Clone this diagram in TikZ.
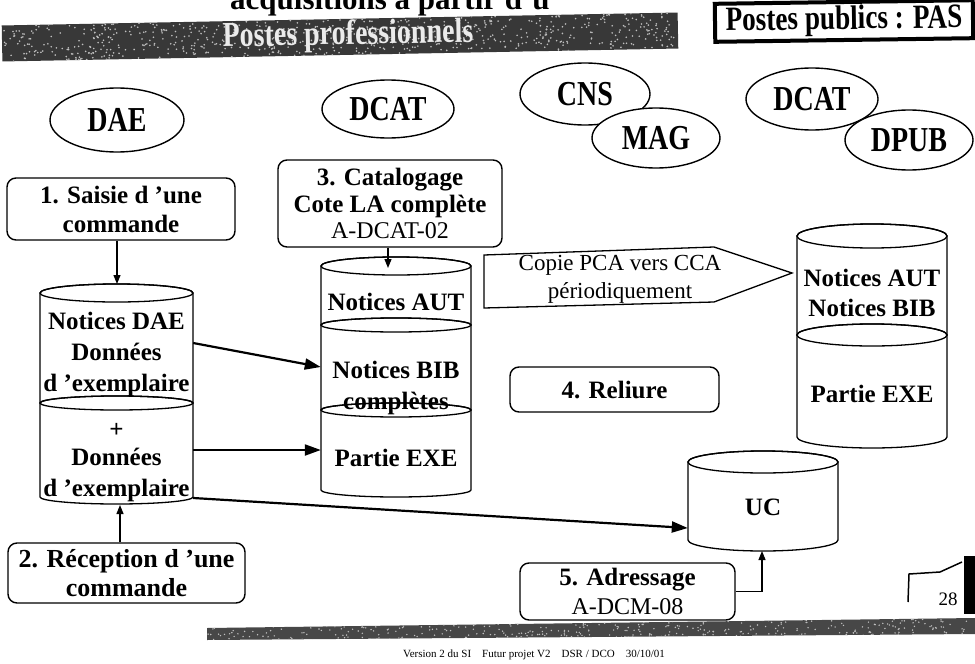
\documentclass[tikz,border=0pt]{standalone}
\usepackage{fontspec}
\setmainfont{Liberation Serif}
\newfontfamily\condfont{Liberation Serif}[FakeStretch=0.8]
\usetikzlibrary{arrows.meta,shapes.geometric}

\newcommand{\cylpart}[5]{%
  \filldraw[fill=white, draw=black, line width=1.3pt] ({#1-#4},#2) -- ({#1-#4},#3)
    arc[start angle=180, end angle=0, x radius=#4, y radius=#5] -- ({#1+#4},#2)
    arc[start angle=0, end angle=-180, x radius=#4, y radius=#5] -- cycle;
  \draw[line width=1.3pt] (#1,#2) ellipse [x radius=#4, y radius=#5];
}

\begin{document}
\begin{tikzpicture}[x=1pt,y=-1pt,
  ell/.style={draw, ellipse, line width=1.4pt, fill=white, inner sep=0pt, font=\condfont\fontsize{35}{38}\selectfont\bfseries},
  stepbox/.style={draw, rounded corners=9pt, line width=1.4pt, fill=white, align=center, inner sep=0pt, font=\fontsize{25}{29}\selectfont\bfseries},
  cyltxt/.style={align=center, inner sep=0pt, font=\fontsize{25}{31}\selectfont\bfseries},
  bigarr/.style={line width=2.2pt, -{Triangle[length=16pt,width=11pt]}},
  smallarr/.style={line width=1.2pt, -{Triangle[length=9pt,width=7pt]}},
  speck/.style={fill=white!75!black}
]
\useasboundingbox (0,0) rectangle (975,664);

% title (cut at top, as in the scan)
\node[anchor=base west, inner sep=0pt, font=\fontsize{31}{36}\selectfont\bfseries] (title) at (230,9) {acquisitions à partir d'u};

% band "Postes professionnels"
\begin{scope}[shift={(340,37)}, rotate=1.1]
  \fill[black!78] (-338,-18) rectangle (338,18);
  \begin{scope}
    \clip (-338,-18) rectangle (338,18);
    \pgfmathsetseed{11}
    \foreach \i in {1,...,700}{
      \pgfmathsetmacro\px{rand*338}
      \pgfmathsetmacro\py{rand*18}
      \fill[speck] (\px,\py) circle (0.9);
    }
  \end{scope}
  \node[transform shape, text=white!92!black, inner sep=0pt, font=\condfont\fontsize{35}{38}\selectfont\bfseries] (prof) at (8,-1) {Postes professionnels};
\end{scope}

% box "Postes publics : PAS"
\node[draw, line width=4pt, fill=white, rotate=0.8, minimum width=258pt, minimum height=38pt, inner sep=0pt, font=\condfont\fontsize{34}{37}\selectfont\bfseries] (pas) at (844,21) {Postes publics : PAS};

% ellipses
\node[ell, minimum width=134pt, minimum height=64pt] (dae) at (117,120) {DAE};
\node[ell, minimum width=132pt, minimum height=58pt] (dcat) at (388,109) {DCAT};
\node[ell, minimum width=130pt, minimum height=62pt] (cns) at (585,94) {CNS};
\node[ell, minimum width=128pt, minimum height=60pt] (mag) at (656,138) {MAG};
\node[ell, minimum width=132pt, minimum height=62pt] (dcatp) at (812,99) {DCAT};
\node[ell, minimum width=128pt, minimum height=60pt] (dpub) at (909,140) {DPUB};

% process boxes
\node[stepbox, minimum width=228pt, minimum height=62pt] (saisie) at (121,209) {1. Saisie d 'une\\commande};
\node[stepbox, minimum width=224pt, minimum height=87pt] (catal) at (390,203.5)
  {3. Catalogage\\[-2pt]Cote LA complète\\[-3pt]\fontsize{24}{27}\selectfont\mdseries A-DCAT-02};
\node[stepbox, minimum width=209pt, minimum height=45pt] (reliure) at (614.5,389.5) {4. Reliure};
\node[stepbox, minimum width=237pt, minimum height=60pt, font=\fontsize{26}{29}\selectfont\bfseries] (recep) at (126.5,573) {2. Réception d 'une\\commande};
\node[stepbox, minimum width=215pt, minimum height=57pt] (adress) at (627.5,591.5)
  {5. Adressage\\\fontsize{24}{27}\selectfont\mdseries A-DCM-08};

% copy arrow shape
\draw[line width=1.3pt, fill=white] (484,255) -- (714,247) -- (792,273) -- (714,302) -- (484,308) -- cycle;
\node[align=center, inner sep=0pt, font=\fontsize{23}{28}\selectfont] (copie) at (620,279) {Copie PCA vers CCA\\périodiquement};

% DAE cylinder
\cylpart{116.5}{293}{403}{76.5}{9}
\cylpart{116.5}{403}{497}{76.5}{7}
\node[cyltxt, minimum width=153pt] (daeU) at (116.5,354) {Notices DAE\\Données\\d 'exemplaire};
\node[cyltxt, minimum width=153pt] (daeL) at (116.5,463) {+\\[-3pt]Données\\d 'exemplaire};
\coordinate (daeTop) at (117,284);
\coordinate (daeBot) at (120,505);

% DCAT cylinder
\cylpart{396}{266}{325}{75}{9}
\cylpart{396}{325}{410}{75}{7}
\cylpart{396}{410}{490}{75}{7}
\node[cyltxt, minimum width=150pt] (dcatA) at (396,302) {Notices AUT};
\node[cyltxt, minimum width=150pt] (dcatB) at (396,388) {Notices BIB\\complètes};
\node[cyltxt, minimum width=150pt] (dcatE) at (396,458) {Partie EXE};
\coordinate (dcatTop) at (388,268);

% PAS cylinder
\cylpart{872}{236}{335}{75}{12}
\cylpart{872}{335}{437}{75}{11}
\node[cyltxt, minimum width=150pt, font=\fontsize{25}{30}\selectfont\bfseries] (pasA) at (872,293) {Notices AUT\\Notices BIB};
\node[cyltxt, minimum width=150pt] (pasE) at (872,394) {Partie EXE};

% UC cylinder
\cylpart{763}{462}{540}{75}{11}
\node[cyltxt, minimum width=150pt] (uc) at (763,507) {UC};
\coordinate (ucBot) at (762,551);

% connectors
\draw[smallarr] (daeTop |- saisie.south) -- (daeTop);
\draw[smallarr] (dcatTop |- catal.south) -- (dcatTop);
\draw[smallarr] (daeBot |- recep.north) -- (daeBot);
\draw[bigarr] (daeU.east |- 0,343) -- (dcatB.west |- 0,367);
\draw[bigarr] (daeL.east |- 0,450) -- (dcatE.west |- 0,450);
\draw[bigarr] (daeL.east |- 0,498) -- (uc.west |- 0,528);
\draw[smallarr] (adress.east) -| (ucBot);

% page corner and number
\fill[black] (964,556) rectangle (975,614);
\draw[line width=1.5pt] (908,602) -- (909,574) -- (940,572) -- (962,562);
\node[inner sep=0pt, font=\fontsize{19}{22}\selectfont] (pnum) at (948,599) {28};

% footer bar
\begin{scope}
  \fill[black!72] (207,628) -- (975,618) -- (975,634) -- (207,640) -- cycle;
  \clip (207,628) -- (975,618) -- (975,634) -- (207,640) -- cycle;
  \pgfmathsetseed{5}
  \foreach \i in {1,...,500}{
    \pgfmathsetmacro\px{591+rand*384}
    \pgfmathsetmacro\py{629+rand*11}
    \fill[speck] (\px,\py) circle (0.8);
  }
\end{scope}
\node[inner sep=0pt, font=\fontsize{11}{13}\selectfont] (footer) at (534,655) {Version 2 du SI\quad Futur projet V2\quad DSR / DCO\quad 30/10/01};
\end{tikzpicture}
\end{document}
